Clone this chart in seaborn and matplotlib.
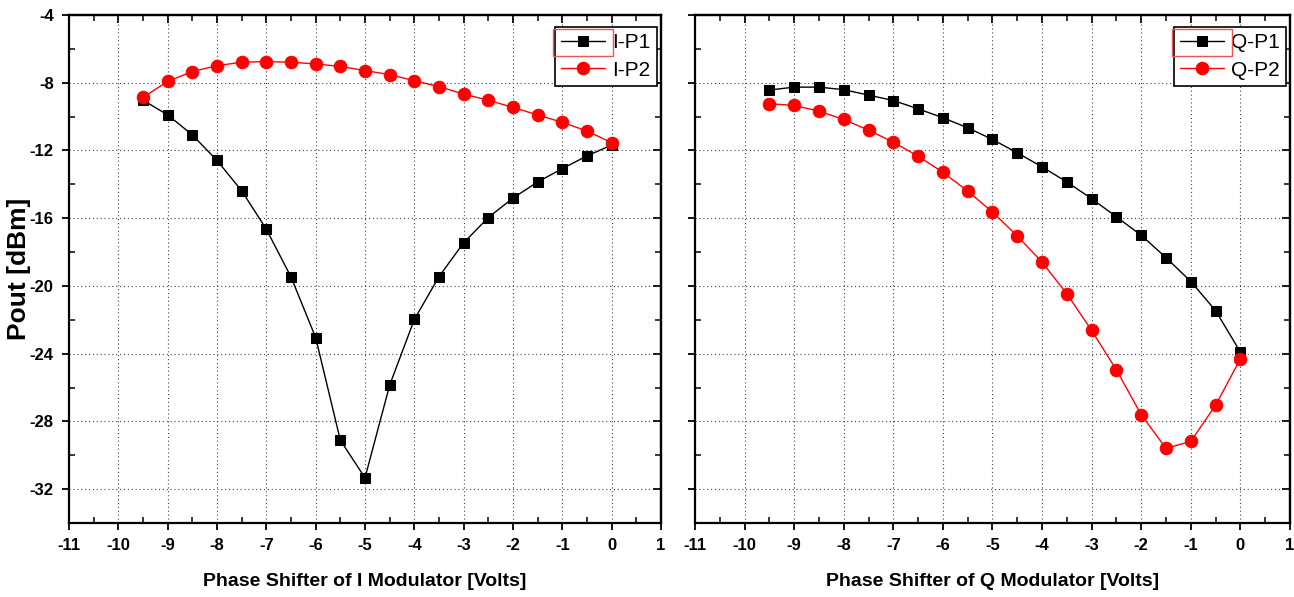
import numpy as np
import pandas as pd
import matplotlib
matplotlib.use("Agg")
import matplotlib.pyplot as plt
from matplotlib.patches import Rectangle
from matplotlib.ticker import MultipleLocator, NullFormatter
import seaborn as sns

# Phase shifter bias voltage (V)
volts = [-9.5, -9.0, -8.5, -8.0, -7.5, -7.0, -6.5, -6.0, -5.5, -5.0,
         -4.5, -4.0, -3.5, -3.0, -2.5, -2.0, -1.5, -1.0, -0.5, 0.0]

# Output power (dBm), I modulator sweep
i_p1 = [-9.03, -9.90, -11.08, -12.59, -14.38, -16.65, -19.47, -23.05, -29.11, -31.33,
        -25.86, -21.98, -19.45, -17.45, -15.96, -14.81, -13.86, -13.07, -12.32, -11.68]
i_p2 = [-8.87, -7.92, -7.34, -6.99, -6.79, -6.75, -6.79, -6.89, -7.04, -7.28,
        -7.52, -7.88, -8.23, -8.67, -9.03, -9.46, -9.90, -10.34, -10.85, -11.54]

# Output power (dBm), Q modulator sweep
q_p1 = [-8.43, -8.26, -8.26, -8.41, -8.73, -9.05, -9.54, -10.07, -10.66, -11.35,
        -12.14, -12.97, -13.86, -14.85, -15.92, -17.01, -18.33, -19.74, -21.46, -23.91]
q_p2 = [-9.24, -9.34, -9.68, -10.17, -10.80, -11.51, -12.34, -13.29, -14.40, -15.64,
        -17.05, -18.59, -20.47, -22.63, -24.96, -27.61, -29.59, -29.18, -27.04, -24.31]

panels = [
    ("Phase Shifter of I Modulator [Volts]", [("I-P1", i_p1), ("I-P2", i_p2)], True),
    ("Phase Shifter of Q Modulator [Volts]", [("Q-P1", q_p1), ("Q-P2", q_p2)], False),
]

sns.set_theme(style="ticks")
plt.rcParams["font.family"] = ["Liberation Sans", "DejaVu Sans"]
plt.rcParams["axes.unicode_minus"] = False
for key in ("text.color", "axes.labelcolor", "xtick.color", "ytick.color",
            "xtick.labelcolor", "ytick.labelcolor"):
    plt.rcParams[key] = "black"

W, H = 1294, 597
fig = plt.figure(figsize=(W / 100, H / 100), dpi=100)
ax_l = fig.add_axes([69 / W, 1 - 523 / H, 592 / W, 508 / H])
ax_r = fig.add_axes([695 / W, 1 - 523 / H, 595 / W, 508 / H])

styles = [dict(color="black", marker="s", markersize=7.5),
          dict(color="red", marker="o", markersize=9)]


def set_locators(axis_x, axis_y):
    if axis_x is not None:
        axis_x.set_major_locator(MultipleLocator(1))
        axis_x.set_minor_locator(MultipleLocator(0.5))
    if axis_y is not None:
        axis_y.set_major_locator(MultipleLocator(4))
        axis_y.set_minor_locator(MultipleLocator(2))


legends = []
for ax, (xlabel, series, show_y) in zip([ax_l, ax_r], panels):
    for (name, vals), st in zip(series, styles):
        df = pd.DataFrame({"V": volts, "P": vals})
        sns.lineplot(data=df, x="V", y="P", ax=ax, label=name,
                     color=st["color"], marker=st["marker"],
                     markersize=st["markersize"],
                     markeredgecolor=st["color"], markerfacecolor=st["color"],
                     linewidth=1.0, zorder=3)

    ax.set_xlim(-11, 1)
    ax.set_ylim(-34, -4)
    set_locators(ax.xaxis, ax.yaxis)
    ax.grid(True, which="major", linestyle=(0, (1, 2.5)), color="#444444", linewidth=0.8)

    for sp in ax.spines.values():
        sp.set_linewidth(1.6)
        sp.set_color("black")

    ax.tick_params(which="major", direction="out", length=5, width=1.3,
                   top=False, right=False, colors="black", pad=6)
    ax.tick_params(which="minor", direction="in", length=4, width=1.1,
                   top=False, right=False)

    # inward ticks along the top and right frame
    top = ax.secondary_xaxis("top")
    right = ax.secondary_yaxis("right")
    set_locators(top.xaxis, None)
    set_locators(None, right.yaxis)
    top.xaxis.set_major_formatter(NullFormatter())
    right.yaxis.set_major_formatter(NullFormatter())
    top.tick_params(which="major", direction="in", length=6, width=1.3)
    top.tick_params(which="minor", direction="in", length=4, width=1.1)
    right.tick_params(which="major", direction="in", length=6, width=1.3)
    right.tick_params(which="minor", direction="in", length=4, width=1.1)
    for s in (top, right):
        for sp in s.spines.values():
            sp.set_linewidth(1.6)

    for lbl in ax.get_xticklabels() + ax.get_yticklabels():
        lbl.set_fontweight("bold")
        lbl.set_fontsize(12)

    ax.set_xlabel(xlabel, fontweight="bold", fontsize=14, labelpad=14)
    if show_y:
        ax.set_ylabel("Pout [dBm]", fontweight="bold", fontsize=19)
        ax.yaxis.label.set_verticalalignment("center")
        ax.yaxis.set_label_coords((19 - 69) / 592, 0.5)
    else:
        ax.set_ylabel("")
        ax.tick_params(axis="y", labelleft=False)

    leg = ax.legend(loc="upper right",
                    bbox_to_anchor=(1 - 4 / 592, 1 - 12 / 508),
                    frameon=True, fancybox=False,
                    edgecolor="black", fontsize=15, handlelength=2.1,
                    borderpad=0.3, labelspacing=0.4, handletextpad=0.35,
                    borderaxespad=0.0)
    leg.get_frame().set_linewidth(1.2)
    leg.get_frame().set_alpha(1)
    for t in leg.get_texts():
        t.set_color("black")
    legends.append(leg)

# Selection outline around the first legend entry's handle
fig.canvas.draw()
renderer = fig.canvas.get_renderer()
for leg in legends:
    h = leg.legend_handles[0]
    bb = h.get_window_extent(renderer)
    txt = leg.get_texts()[0].get_window_extent(renderer)
    x0, x1 = bb.x0 - 3, bb.x1 + 3
    y0, y1 = txt.y0 - 4, txt.y1 + 4
    fig.add_artist(Rectangle((x0 / W, y0 / H), (x1 - x0) / W, (y1 - y0) / H,
                             transform=fig.transFigure, fill=False,
                             edgecolor="#ee5555", linewidth=1.0, zorder=10))

fig.savefig("out.png", dpi=100)
